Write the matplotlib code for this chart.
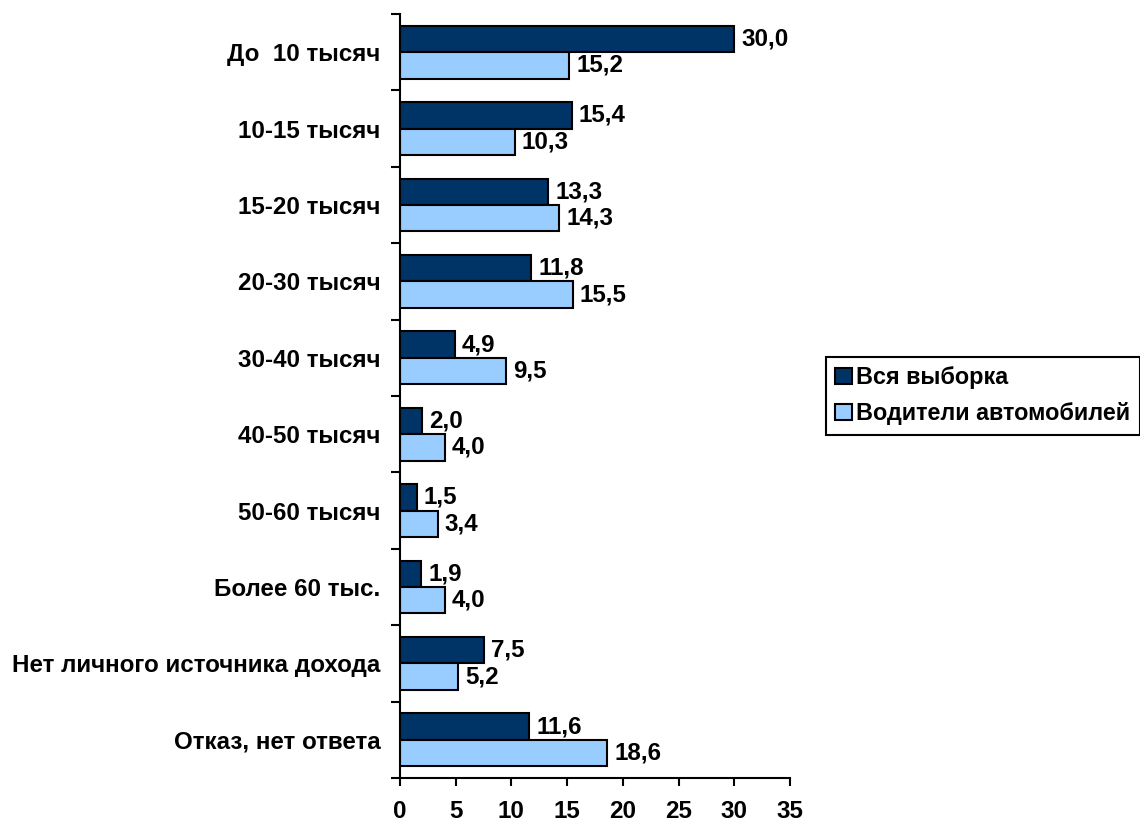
import matplotlib
matplotlib.use("Agg")
import matplotlib.pyplot as plt
import numpy as np
from matplotlib.ticker import FixedLocator

plt.rcParams['font.family'] = ['Liberation Sans', 'DejaVu Sans']
plt.rcParams['font.weight'] = 'bold'

categories = ["До  10 тысяч", "10-15 тысяч", "15-20 тысяч", "20-30 тысяч",
              "30-40 тысяч", "40-50 тысяч", "50-60 тысяч", "Более 60 тыс.",
              "Нет личного источника дохода", "Отказ, нет ответа"]
all_sample = [30.0, 15.4, 13.3, 11.8, 4.9, 2.0, 1.5, 1.9, 7.5, 11.6]
car_drivers = [15.2, 10.3, 14.3, 15.5, 9.5, 4.0, 3.4, 4.0, 5.2, 18.6]
series_names = ["Вся выборка", "Водители автомобилей"]
x_ticks = [0, 5, 10, 15, 20, 25, 30, 35]

dark = "#003366"
light = "#99CCFF"
fs = 17.4

fig = plt.figure(figsize=(11.4, 8.23), dpi=100)
ax = fig.add_axes([400/1140, 1-778/823, 390/1140, (778-14)/823])

y = np.arange(len(categories))
h = 0.345
b1 = ax.barh(y - h/2, all_sample, height=h, color=dark, edgecolor="black",
             linewidth=1.5, label=series_names[0])
b2 = ax.barh(y + h/2, car_drivers, height=h, color=light, edgecolor="black",
             linewidth=1.5, label=series_names[1])

for bars, vals in ((b1, all_sample), (b2, car_drivers)):
    for bar, v in zip(bars, vals):
        ax.annotate(f"{v:.1f}".replace(".", ","),
                    xy=(v, bar.get_y() + bar.get_height()/2),
                    xytext=(5, 0), textcoords="offset points",
                    ha="left", va="center", fontsize=fs, fontweight="bold")

ax.set_xlim(0, 35)
ax.set_ylim(len(categories) - 0.5, -0.5)
ax.set_xticks(x_ticks)
ax.set_xticklabels([str(t) for t in x_ticks], fontsize=fs, fontweight="bold")
ax.set_yticks(y)
ax.set_yticklabels(categories, fontsize=fs, fontweight="bold")
ax.yaxis.set_minor_locator(FixedLocator(np.arange(-0.5, len(categories), 1.0)))

ax.tick_params(axis="y", which="major", length=0, pad=14)
ax.tick_params(axis="y", which="minor", length=6.5, width=1.5, direction="out")
ax.tick_params(axis="x", which="major", length=6, width=1.5, direction="out", pad=10)

for s in ("top", "right"):
    ax.spines[s].set_visible(False)
for s in ("left", "bottom"):
    ax.spines[s].set_linewidth(1.5)

leg = fig.legend(handles=[b1, b2], labels=series_names,
                 loc="upper left", bbox_to_anchor=(826/1140, 1-357/823),
                 frameon=True, fancybox=False, framealpha=1, fontsize=16.8,
                 handlelength=0.7, handleheight=0.7, handletextpad=0.2,
                 borderpad=0.4, borderaxespad=0, labelspacing=0.55)
leg.get_frame().set_edgecolor("black")
leg.get_frame().set_linewidth(1.5)
for t in leg.get_texts():
    t.set_fontweight("bold")

fig.savefig("out.png", dpi=100)
